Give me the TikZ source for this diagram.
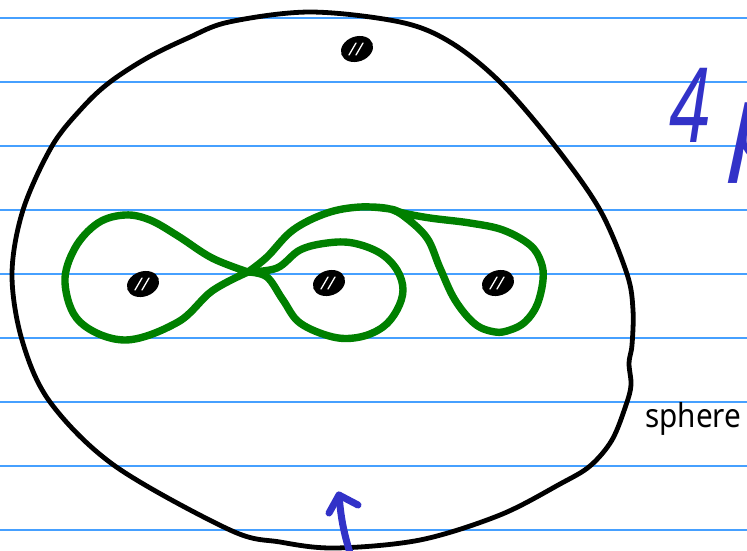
\documentclass[tikz,border=0pt]{standalone}
\usepackage{fontspec}
\setmainfont{Noto Sans}
\usetikzlibrary{shapes.geometric}
\definecolor{ruled}{RGB}{70,160,255}
\definecolor{ink}{RGB}{50,50,200}
\definecolor{curvegreen}{RGB}{0,128,0}
\begin{document}
\begin{tikzpicture}[x=1pt,y=-1pt,line cap=round,line join=round,
  ruleline/.style={draw=ruled,line width=1.3pt},
  outline/.style={draw=black,line width=4.8pt},
  greenloop/.style={draw=curvegreen,line width=7.4pt},
  puncture/.style={ellipse,fill=black,minimum width=33pt,minimum height=25pt,inner sep=0pt,rotate=20},
  hatch/.style={draw=white,line width=1.3pt},
  pen/.style={draw=ink,line width=7pt}]
\fill[white] (0,0) rectangle (747,550);
\useasboundingbox (0,0) rectangle (747,550);
% ruled notebook lines
\foreach \k in {0,...,8} {\draw[ruleline] (0,{18+64*\k}) -- (747,{18+64*\k});}
% sphere outline
\draw[outline] plot[smooth cycle,tension=0.55] coordinates {
 (310,12) (400,22) (450,42) (500,82) (555,146) (600,210) (627,274) (633,310)
 (632,345) (629,363) (631,385) (626,405) (612,440) (590,466) (560,484)
 (500,515) (420,540) (335,548) (280,542) (230,530) (115,466) (50,402)
 (22,340) (12,274) (23,210) (52,146) (83,107) (110,82) (147,58) (188,38) (229,22)};
% punctures
\node[puncture] (d0) at (357,49) {};
\node[puncture] (d1) at (143,284) {};
\node[puncture] (d2) at (329,283) {};
\node[puncture] (d3) at (498,283) {};
\foreach \d in {d0,d1,d2,d3} {
  \draw[hatch] ([shift={(-8,6)}]\d.center) -- ++(7,-12);
  \draw[hatch] ([shift={(-1,6)}]\d.center) -- ++(7,-12);
}
% green curve
\coordinate (A) at (248,272);
\coordinate (B) at (390,209);
\draw[greenloop] plot[smooth,tension=0.6] coordinates {
 (A) (212,258) (178,236) (150,220) (125,215) (98,223) (75,248) (65,283)
 (80,322) (125,340) (178,322) (212,291) (A)};
\draw[greenloop] plot[smooth,tension=0.6] coordinates {
 (A) (277,268) (300,250) (327,243) (353,243) (380,253) (397,270) (403,290)
 (397,310) (383,327) (360,337) (333,337) (300,323) (283,300) (267,277) (A)};
\draw[greenloop] plot[smooth,tension=0.6] coordinates {
 (A) (267,257) (293,230) (327,213) (360,207) (B) (403,213) (430,218)
 (470,223) (503,230) (530,245) (541,262) (543,280) (537,305) (525,322)
 (510,330) (495,332) (475,324) (455,300) (440,268) (427,238) (405,217) (B) (372,207)};
% labels
\node[anchor=base west,inner sep=0pt,font=\fontsize{33}{38}\selectfont] (sphlabel) at (645,427) {\scalebox{0.9}[1]{sphere}};
\node[anchor=base,inner sep=0pt,text=ink,font=\fontsize{104}{110}\selectfont\itshape] (four) at (690,142) {\scalebox{0.7}[1]{4}};
\node[anchor=base west,inner sep=0pt,text=ink,font=\fontsize{104}{110}\selectfont\itshape] (pp) at (730,158) {p};
% blue arrow
\coordinate (arrowtail) at (350,553);
\coordinate (arrowtip) at (339,495);
\coordinate (armL) at (329,513);
\coordinate (armR) at (358,505);
\draw[pen] (arrowtail) to[bend left=6] (arrowtip);
\draw[pen] (armL) -- (arrowtip) -- (armR);
\end{tikzpicture}
\end{document}
